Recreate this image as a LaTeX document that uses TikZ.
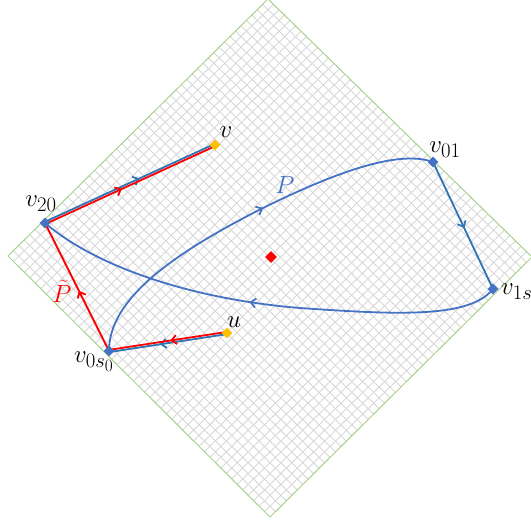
\documentclass[tikz,border=0pt]{standalone}
\usetikzlibrary{calc,shapes.geometric,decorations.markings,arrows.meta}
\definecolor{cblue}{HTML}{4472C4}
\definecolor{cblue2}{HTML}{2E75B6}
\definecolor{cred}{HTML}{FF0000}
\definecolor{cyel}{HTML}{FFC000}
\definecolor{cgreen}{HTML}{A9D18E}
\definecolor{cgrid}{HTML}{D8D8D8}
\pgfdeclarelayer{back}
\pgfsetlayers{back,main}
\tikzset{
  gridline/.style={cgrid, line width=0.9pt},
  border/.style={cgreen, line width=1pt},
  marker/.style={diamond, inner sep=0pt, minimum width=11pt, minimum height=11pt, draw=none},
  bmark/.style={marker, fill=cblue},
  ymark/.style={marker, fill=cyel},
  rmark/.style={marker, fill=cred, minimum width=12pt, minimum height=12pt},
  pline/.style={line width=1.8pt},
  bline/.style={pline, cblue2},
  cline/.style={pline, cblue},
  rline/.style={pline, cred},
  arr/.style={postaction={decorate}, decoration={markings,
      mark=at position #1 with {\arrow{Straight Barb[length=5pt,width=9pt]}}}},
  lab/.style={inner sep=0pt, font=\fontsize{24.88}{28}\selectfont},
}
\begin{document}
\begin{tikzpicture}[x=1pt,y=-1pt]
\useasboundingbox (0,0) rectangle (531,524);
% diamond frame corners
\coordinate (L) at (8,256);
\coordinate (T) at (268,-1);
\coordinate (R) at (532,257);
\coordinate (B) at (270,517);
% markers
\node[bmark] (v20) at (45,223) {};
\node[ymark] (v) at (215,145) {};
\node[bmark] (v0s0) at (109,351) {};
\node[ymark] (u) at (227,333) {};
\node[bmark] (v01) at (433,162) {};
\node[bmark] (v1s1) at (493,289) {};
\node[rmark] (c) at (271,257) {};
\begin{pgfonlayer}{back}
  \foreach \i in {1,...,47} {
    \draw[gridline] ($(L)!\i/48!(B)$) -- ($(T)!\i/48!(R)$);
    \draw[gridline] ($(L)!\i/48!(T)$) -- ($(B)!\i/48!(R)$);
  }
  \draw[border] (L) -- (T) -- (R) -- (B) -- cycle;
  % P: curves
  \draw[cline, arr=0.55] (v0s0.center) .. controls (109,300) and (170,255) .. (263,208)
        .. controls (340,170) and (400,150) .. (v01.center);
  \draw[bline, arr=0.52] (v01.center) -- (v1s1.center);
  \draw[cline, arr=0.53] (v1s1.center) .. controls (470,318) and (400,315) .. (300,308)
        .. controls (200,300) and (100,270) .. (v20.center);
  % double lines v20 -> v
  \draw[bline, arr=0.56] ($(v20)!1.1pt!90:(v)$) -- ($(v)!1.1pt!-90:(v20)$);
  \draw[rline, arr=0.45] ($(v20)!1.1pt!-90:(v)$) -- ($(v)!1.1pt!90:(v20)$);
  % double lines u -> v0s0
  \draw[bline, arr=0.57] ($(u)!1.1pt!90:(v0s0)$) -- ($(v0s0)!1.1pt!-90:(u)$);
  \draw[rline, arr=0.48] ($(u)!1.1pt!-90:(v0s0)$) -- ($(v0s0)!1.1pt!90:(u)$);
  % tilde P
  \draw[rline, arr=0.47] (v0s0.center) -- (v20.center);
\end{pgfonlayer}
% labels
\node[lab] (lv) at (226,132) {$v$};
\node[lab] (lv20) at (41,204) {$v_{20}$};
\node[lab] (lv01) at (445,150) {$v_{01}$};
\node[lab, anchor=west] (lv1s1) at (501,294) {$v_{1s_1}$};
\node[lab] (lu) at (234,322) {$u$};
\node[lab] (lv0s0) at (94,362) {$v_{0s_0}$};
\node[lab, text=cblue] (lP) at (285,185) {$P$};
\node[lab, text=cred] (lPt) at (62,291) {$\tilde P$};
\end{tikzpicture}
\end{document}
